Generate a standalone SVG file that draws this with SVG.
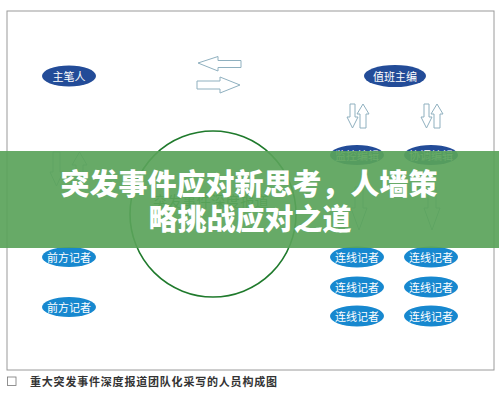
<svg xmlns="http://www.w3.org/2000/svg" width="499" height="400" viewBox="0 0 499 400">
<defs>
<style>
.lbl{font-family:"Noto Sans CJK SC","Noto Sans",sans-serif;font-size:11px;fill:#ffffff;text-anchor:middle;dominant-baseline:central}
.dark{fill:#234c98}
.blue{fill:#1788cf}
.arr{fill:#ffffff;stroke:#8fb0bf;stroke-width:1}
.ban{font-family:"Noto Sans CJK SC","Noto Sans",sans-serif;font-size:29px;font-weight:900;fill:#ffffff;text-anchor:middle}
</style>
</defs>
<rect x="0" y="0" width="499" height="400" fill="#ffffff"/>
<rect x="7" y="11" width="487" height="359" fill="#ffffff" stroke="#9a9a9a" stroke-width="1"/>

<g id="connectors">
<path class="arr" d="M198,63 L218,56.5 L218,60.5 L241,60.5 L241,67.5 L218,67.5 L218,71 Z"/>
<path class="arr" d="M240,85 L220,77 L220,81 L197,81 L197,89 L220,89 L220,93 Z"/>
<path class="arr" d="M350,104 L355,104 L355,117 L358,117 L352.5,128 L347,117 L350,117 Z"/>
<path class="arr" d="M363,104 L369,114 L366,114 L366,128 L360,128 L360,114 L357,114 Z"/>
<path class="arr" d="M424,104 L429,104 L429,117 L432,117 L426.5,128 L421,117 L424,117 Z"/>
<path class="arr" d="M437,104 L443,114 L440,114 L440,128 L434,128 L434,114 L431,114 Z"/>
<path class="arr" d="M53,152 L60,152 L60,172 L63,172 L56.5,186 L50,172 L53,172 Z"/>
<path class="arr" d="M79.5,152 L87,165 L83,165 L83,177 L76,177 L76,165 L72,165 Z"/>
<path class="arr" d="M355,187 L363,187 L363,208 L367,208 L359,230 L351,208 L355,208 Z"/>
<path class="arr" d="M428,187 L436,187 L436,208 L440,208 L432,230 L424,208 L428,208 Z"/>
</g>

<g id="circle">
<circle cx="213" cy="214" r="83" fill="none" stroke="#1f7a2c" stroke-width="1.6"/>
<text x="211" y="207" font-family="Noto Sans CJK SC,sans-serif" font-size="14.5" fill="#2f8a3c" text-anchor="middle">突发事件深度报道</text>
</g>

<g id="n-zhubiren"><ellipse class="dark" cx="69" cy="76" rx="27" ry="10.5"/><text class="lbl" x="69" y="76">主笔人</text></g>
<g id="n-zhibanzhubian"><ellipse class="dark" cx="395" cy="76" rx="31" ry="11"/><text class="lbl" x="395" y="76">值班主编</text></g>
<g id="n-jiankong"><ellipse class="dark" cx="357" cy="155" rx="27" ry="10"/><text class="lbl" x="357" y="155">监控编辑</text></g>
<g id="n-xietiao"><ellipse class="dark" cx="431" cy="155" rx="27" ry="10"/><text class="lbl" x="431" y="155">协调编辑</text></g>
<g id="n-qianfang1"><ellipse class="blue" cx="69" cy="257" rx="27" ry="10"/><text class="lbl" x="69" y="257">前方记者</text></g>
<g id="n-qianfang2"><ellipse class="blue" cx="69" cy="307" rx="27" ry="10"/><text class="lbl" x="69" y="307">前方记者</text></g>
<g id="n-lx1"><ellipse class="blue" cx="357" cy="257" rx="27" ry="10.5"/><text class="lbl" x="357" y="257">连线记者</text></g>
<g id="n-lx2"><ellipse class="blue" cx="431" cy="257" rx="27" ry="10.5"/><text class="lbl" x="431" y="257">连线记者</text></g>
<g id="n-lx3"><ellipse class="blue" cx="357" cy="287" rx="27" ry="10.5"/><text class="lbl" x="357" y="287">连线记者</text></g>
<g id="n-lx4"><ellipse class="blue" cx="431" cy="287" rx="27" ry="10.5"/><text class="lbl" x="431" y="287">连线记者</text></g>
<g id="n-lx5"><ellipse class="blue" cx="357" cy="316" rx="27" ry="10.5"/><text class="lbl" x="357" y="316">连线记者</text></g>
<g id="n-lx6"><ellipse class="blue" cx="431" cy="316" rx="27" ry="10.5"/><text class="lbl" x="431" y="316">连线记者</text></g>

<g id="caption">
<rect x="7.5" y="377" width="8.5" height="8.5" fill="none" stroke="#777" stroke-width="0.8"/>
<text x="30" y="386" font-family="Noto Sans CJK SC,sans-serif" font-size="11" font-weight="bold" fill="#333" letter-spacing="0.8">重大突发事件深度报道团队化采写的人员构成图</text>
</g>

<g id="banner">
<rect x="0" y="151" width="499" height="97" fill="#5aa35a" opacity="0.92"/>
<text class="ban" x="249" y="195">突发事件应对新思考，人墙策</text>
<text class="ban" x="250" y="230">略挑战应对之道</text>
</g>
</svg>
